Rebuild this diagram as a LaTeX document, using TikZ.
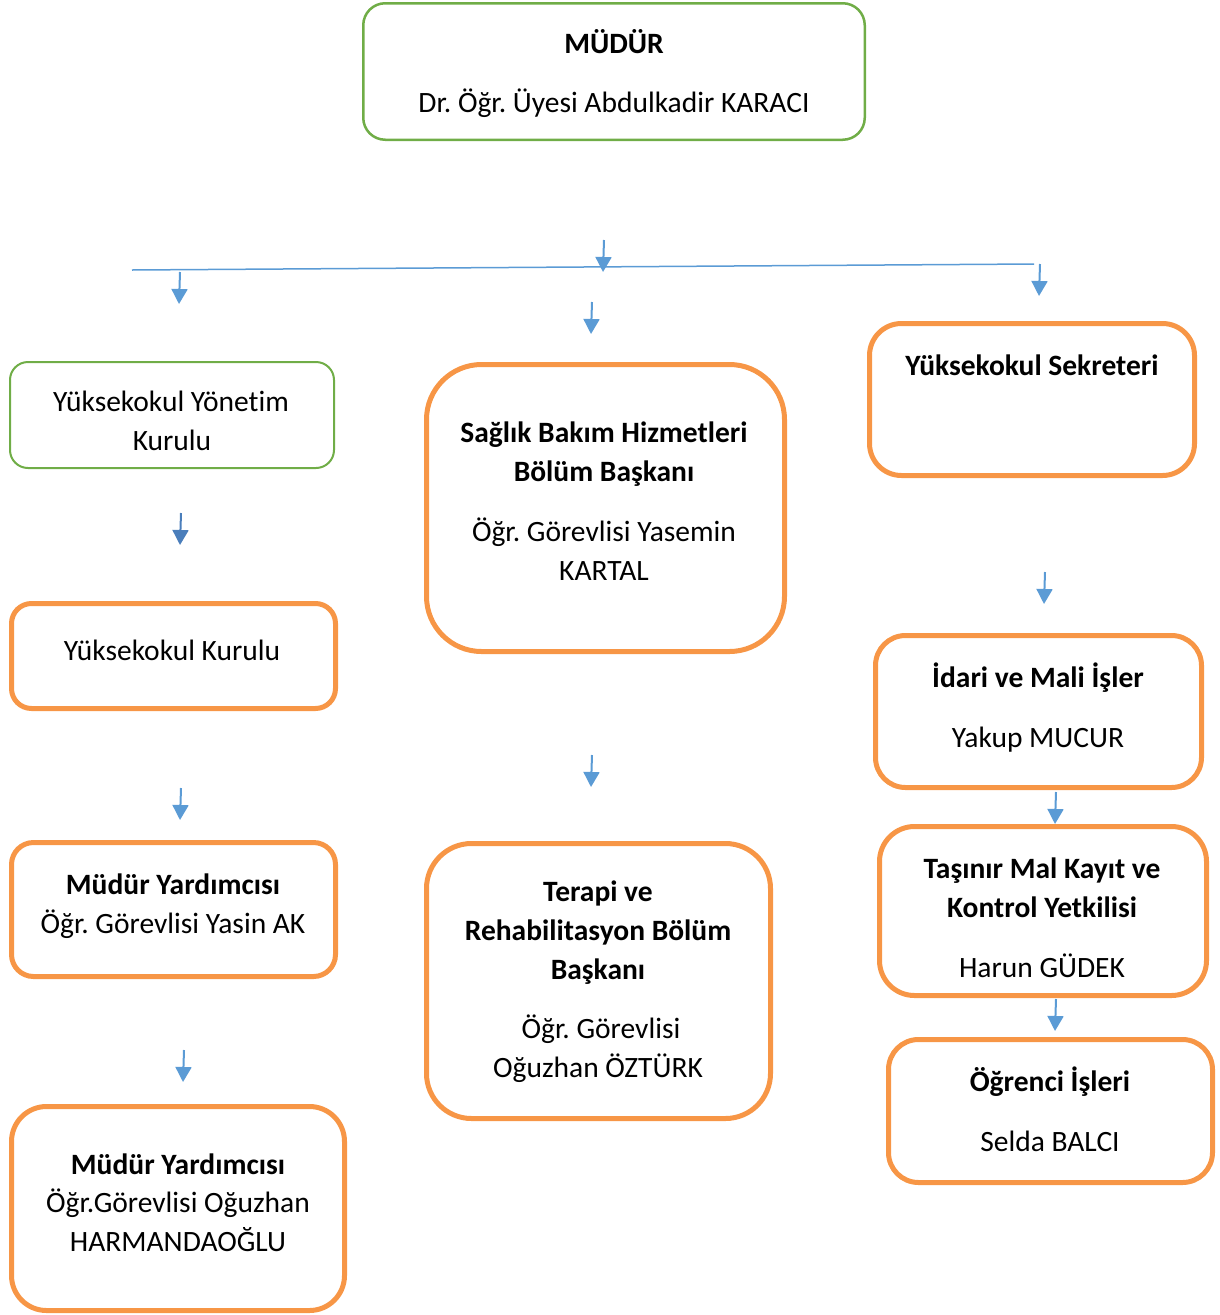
\documentclass[tikz,border=0pt]{standalone}
\usepackage{fontspec}
\setmainfont{Carlito}[Ligatures=NoCommon]
\usetikzlibrary{arrows.meta}
\definecolor{og}{HTML}{F79646}
\definecolor{gr}{HTML}{70AD47}
\definecolor{bl}{HTML}{5B9BD5}
\definecolor{blb}{HTML}{4A7EBB}
\frenchspacing
\begin{document}
\frenchspacing
\begin{tikzpicture}[x=1pt,y=-1pt,
  obox/.style={draw=og, line width=5pt, inner sep=0pt, rectangle},
  gbox/.style={draw=gr, line width=2.5pt, inner sep=0pt, rectangle},
  txt/.style={anchor=base, inner sep=0pt, font=\fontsize{29.5}{39}\selectfont\frenchspacing},
  btxt/.style={txt, font=\fontsize{29.5}{39}\selectfont\frenchspacing\bfseries},
  arr/.style={draw=bl, line width=2pt, -{Triangle[width=16pt,length=15pt]}}]
\useasboundingbox (0,0) rectangle (1219,1315);

% boxes
\node[gbox, minimum width=501.5pt, minimum height=136.5pt, rounded corners=22pt] (mudur) at (614,71.5) {};
\node[gbox, line width=2pt, minimum width=324pt, minimum height=106pt, rounded corners=18pt] (yonetim) at (172,415) {};
\node[obox, minimum width=324pt, minimum height=105pt, rounded corners=20pt] (kurulu) at (173.5,656) {};
\node[obox, minimum width=324pt, minimum height=134pt, rounded corners=22pt] (my1) at (173.5,909.5) {};
\node[obox, minimum width=333pt, minimum height=204pt, rounded corners=35pt] (my2) at (178,1208.5) {};
\node[obox, minimum width=358pt, minimum height=287pt, rounded corners=55pt] (saglik) at (605.5,508) {};
\node[obox, minimum width=344pt, minimum height=275pt, rounded corners=45pt] (terapi) at (598.5,981) {};
\node[obox, minimum width=325pt, minimum height=152pt, rounded corners=32pt] (sekr) at (1032,399.5) {};
\node[obox, minimum width=326pt, minimum height=152pt, rounded corners=30pt] (idari) at (1038.5,711.5) {};
\node[obox, minimum width=327pt, minimum height=169pt, rounded corners=35pt] (tasinir) at (1043,911) {};
\node[obox, minimum width=324pt, minimum height=143pt, rounded corners=30pt] (ogrenci) at (1050.5,1111) {};

% texts
\node[btxt] (t1) at (614,53) {MÜDÜR};
\node[txt] (t2) at (614,112) {Dr. Öğr. Üyesi Abdulkadir KARACI};
\node[txt] (t3) at (171,411) {Yüksekokul Yönetim};
\node[txt] (t4) at (172,450) {Kurulu};
\node[txt] (t5) at (172,660) {Yüksekokul Kurulu};
\node[btxt] (t6) at (173,894) {Müdür Yardımcısı};
\node[txt] (t7) at (173,933) {Öğr. Görevlisi Yasin AK};
\node[btxt] (t8) at (178,1174) {Müdür Yardımcısı};
\node[txt] (t9) at (178,1212) {Öğr.Görevlisi Oğuzhan};
\node[txt] (t10) at (178,1251) {HARMANDAOĞLU};
\node[btxt] (t11) at (604,442) {Sağlık Bakım Hizmetleri};
\node[btxt] (t12) at (604,481) {Bölüm Başkanı};
\node[txt] (t13) at (604,541) {Öğr. Görevlisi Yasemin};
\node[txt] (t14) at (604,580) {KARTAL};
\node[btxt] (t15) at (598,901) {Terapi ve};
\node[btxt] (t16) at (598,940) {Rehabilitasyon Bölüm};
\node[btxt] (t17) at (598,979) {Başkanı};
\node[txt] (t18) at (601,1038) {Öğr. Görevlisi};
\node[txt] (t19) at (598,1077) {Oğuzhan ÖZTÜRK};
\node[btxt] (t20) at (1032,375) {Yüksekokul Sekreteri};
\node[btxt] (t21) at (1038,687) {İdari ve Mali İşler};
\node[txt] (t22) at (1038,747) {Yakup MUCUR};
\node[btxt] (t23) at (1042,878) {Taşınır Mal Kayıt ve};
\node[btxt] (t24) at (1042,917) {Kontrol Yetkilisi};
\node[txt] (t25) at (1042,977) {Harun GÜDEK};
\node[btxt] (t26) at (1050,1091) {Öğrenci İşleri};
\node[txt] (t27) at (1050,1151) {Selda BALCI};

% connectors
\coordinate (hl) at (132,270);
\coordinate (hr) at (1034,264);
\draw[bl, line width=1.5pt] (hl) -- (hr);

\coordinate (a1s) at (604,240); \coordinate (a1e) at (603,272);
\coordinate (a2s) at (180,272); \coordinate (a2e) at (179,304);
\coordinate (a3s) at (592,302); \coordinate (a3e) at (591,334);
\coordinate (a4s) at (1040,264); \coordinate (a4e) at (1039,296);
\coordinate (a5s) at (181,513); \coordinate (a5e) at (180,545);
\coordinate (a6s) at (181,788); \coordinate (a6e) at (180,820);
\coordinate (a7s) at (184,1050); \coordinate (a7e) at (183,1082);
\coordinate (a8s) at (592,755); \coordinate (a8e) at (591,787);
\coordinate (a9s) at (1045,572); \coordinate (a9e) at (1044,604);
\coordinate (a10s) at (1056,792); \coordinate (a10e) at (1055,824);
\coordinate (a11s) at (1056,999); \coordinate (a11e) at (1055,1031);

\draw[arr] (a1s) -- (a1e);
\draw[arr] (a2s) -- (a2e);
\draw[arr] (a3s) -- (a3e);
\draw[arr] (a4s) -- (a4e);
\draw[arr, draw=blb] (a5s) -- (a5e);
\draw[arr] (a6s) -- (a6e);
\draw[arr] (a7s) -- (a7e);
\draw[arr] (a8s) -- (a8e);
\draw[arr] (a9s) -- (a9e);
\draw[arr] (a10s) -- (a10e);
\draw[arr] (a11s) -- (a11e);
\end{tikzpicture}
\end{document}
